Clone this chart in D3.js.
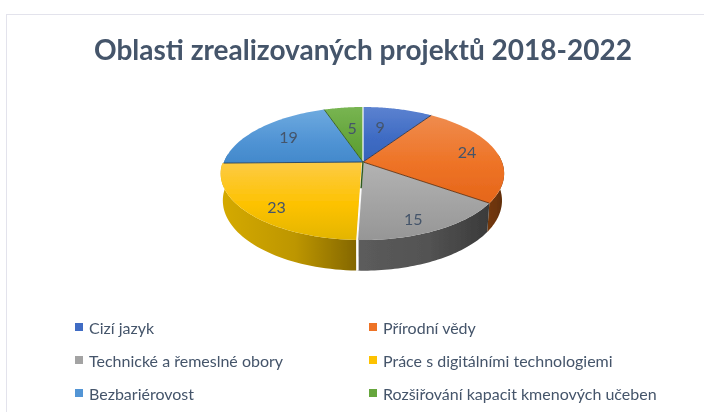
<!DOCTYPE html>
<html><head><meta charset="utf-8">
<script src="https://cdn.jsdelivr.net/npm/d3@7"></script>
<style>html,body{margin:0;padding:0;background:#fff}svg{display:block}text{font-family:Lato,"Open Sans",sans-serif}</style>
</head><body><svg id="c" width="704" height="412"></svg>
<script>
const categories=["Cizí jazyk","Přírodní vědy","Technické a řemeslné obory","Práce s digitálními technologiemi","Bezbariérovost","Rozšiřování kapacit kmenových učeben"];
const values=[9,24,15,23,19,5];
const titleText="Oblasti zrealizovaných projektů 2018-2022";
const faceTop=["#5c82d0","#ef8c4e","#b3b3b3","#fdcb45","#6eaadf","#78b552"];
const faceMid=["#3f6cc4","#ee7326","#a3a3a3","#fdc200","#5295d5","#66a63c"];
const faceBot=["#3563ba","#e5661a","#969696","#e3b500","#4289cb","#5a9c30"];
const wallL=["#2a4a8a","#73380a","#5c5c5c","#d5aa00","#2a6aa0","#3f7020"];
const wallR=["#1f3a70","#5a2a06","#3a3a3a","#846700","#1f5080","#2f5518"];

const svg=d3.select("#c");
const defs=svg.append("defs");
const W=704,H=412,cx=363,cy=162;
const B=139,A=64.5,k=0.173,D=27,m=0.015;

// projected pie rim: depth 0 = top face, depth 1 = bottom rim
function proj(a,depth,r=1){
  const u=r*Math.sin(a),v=-r*Math.cos(a);
  const w=1-k*v+m*depth;
  return [cx+B*u/w,cy+(A*v+D*depth)/w];
}
function samples(a0,a1,depth,n=48){
  return d3.range(n+1).map(i=>proj(a0+(a1-a0)*i/n,depth));
}
const line=d3.line();
const pie=d3.pie().sort(null).value(d=>d)(values);

svg.append("rect").attr("x",6.5).attr("y",14.5).attr("width",W).attr("height",H)
  .attr("fill","#fff").attr("stroke","#e3e3ec");

const blur=defs.append("filter").attr("id","soft").attr("x","-5%").attr("y","-5%").attr("width","110%").attr("height","110%");
blur.append("feGaussianBlur").attr("stdDeviation",0.45);

pie.forEach((d,i)=>{
  const g=defs.append("linearGradient").attr("id","f"+i).attr("x1",0).attr("y1",0).attr("x2",0).attr("y2",1);
  g.append("stop").attr("offset","0%").attr("stop-color",faceTop[i]);
  g.append("stop").attr("offset","55%").attr("stop-color",faceMid[i]);
  g.append("stop").attr("offset","100%").attr("stop-color",faceBot[i]);
  const w=defs.append("linearGradient").attr("id","w"+i).attr("x1",0).attr("y1",0).attr("x2",1).attr("y2",0);
  w.append("stop").attr("offset","0%").attr("stop-color",wallL[i]);
  w.append("stop").attr("offset","55%").attr("stop-color",d3.interpolateRgb(wallL[i],wallR[i])(0.3));
  w.append("stop").attr("offset","100%").attr("stop-color",wallR[i]);
});

const pieG=svg.append("g").attr("filter","url(#soft)");
const shift=i=>i===3?-1.2:0;

// side walls: only the part of a slice facing the viewer
const wallStart=Math.PI/2-0.12,wallEnd=Math.PI*1.5+0.12;
pie.forEach((d,i)=>{
  const a0=Math.max(d.startAngle,wallStart),a1=Math.min(d.endAngle,wallEnd);
  if(a1<=a0) return;
  const pts=samples(a0,a1,0).concat(samples(a1,a0,1));
  pieG.append("path").attr("d",line(pts)+"Z").attr("fill",`url(#w${i})`)
    .attr("transform",`translate(${shift(i)},0)`);
});

// top faces
pie.forEach((d,i)=>{
  const pts=[[cx,cy]].concat(samples(d.startAngle,d.endAngle,0));
  pieG.append("path").attr("d",line(pts)+"Z").attr("fill",`url(#f${i})`)
    .attr("transform",`translate(${shift(i)},0)`);
});

// slice boundaries
const edgeCol=["#fff","#26304a","#5e2c08","#fff","#1f3a55","#2f5518"];
pie.forEach((d,i)=>{
  const p=proj(d.startAngle,0);
  pieG.append("line").attr("x1",cx).attr("y1",cy).attr("x2",p[0]).attr("y2",p[1])
    .attr("stroke",edgeCol[i]).attr("stroke-width",i===0||i===3?1.4:1).attr("stroke-opacity",0.85);
});
// white gap down the wall between grey and yellow
const gapA=pie[3].startAngle;
const g0=proj(gapA,0),g1=proj(gapA,1);
pieG.append("line").attr("x1",g0[0]).attr("y1",g0[1]).attr("x2",g1[0]).attr("y2",g1[1]).attr("stroke","#fff").attr("stroke-width",2.2);
// dark inner edge just below the centre
const inner=proj(gapA,0,0.38);
pieG.append("line").attr("x1",cx).attr("y1",cy).attr("x2",inner[0]).attr("y2",inner[1])
  .attr("stroke","#2f5a1e").attr("stroke-width",1.5);

// data labels
const labelR=[0.614,0.785,0.82,0.83,0.71,0.605];
const labelTurn=[-4.3,-1.3,4,-3.5,1,1.2];
pie.forEach((d,i)=>{
  const a=(d.startAngle+d.endAngle)/2+labelTurn[i]*Math.PI/180;
  const p=proj(a,0,labelR[i]);
  svg.append("text").attr("x",p[0]).attr("y",p[1]).attr("text-anchor","middle").attr("dominant-baseline","central")
    .attr("font-size",16).attr("fill","#44546a").attr("filter","url(#soft)").text(d.value);
});

// title
svg.append("text").attr("x",363).attr("y",60).attr("text-anchor","middle")
  .attr("font-size",28).attr("font-weight",700).attr("fill","#44546a").attr("filter","url(#soft)").text(titleText);

// legend
const colX=d3.scalePoint().domain([0,1]).range([75,369]);
const rowY=d3.scalePoint().domain([0,1,2]).range([327,393]);
categories.forEach((c,i)=>{
  const x=colX(i%2),y=rowY(Math.floor(i/2));
  const g=svg.append("g").attr("filter","url(#soft)");
  g.append("rect").attr("x",x).attr("y",y-4).attr("width",8).attr("height",8).attr("fill",faceMid[i]);
  g.append("text").attr("x",x+14).attr("y",y).attr("dominant-baseline","central")
    .attr("font-size",16).attr("fill","#44546a").text(c);
});
</script></body></html>
